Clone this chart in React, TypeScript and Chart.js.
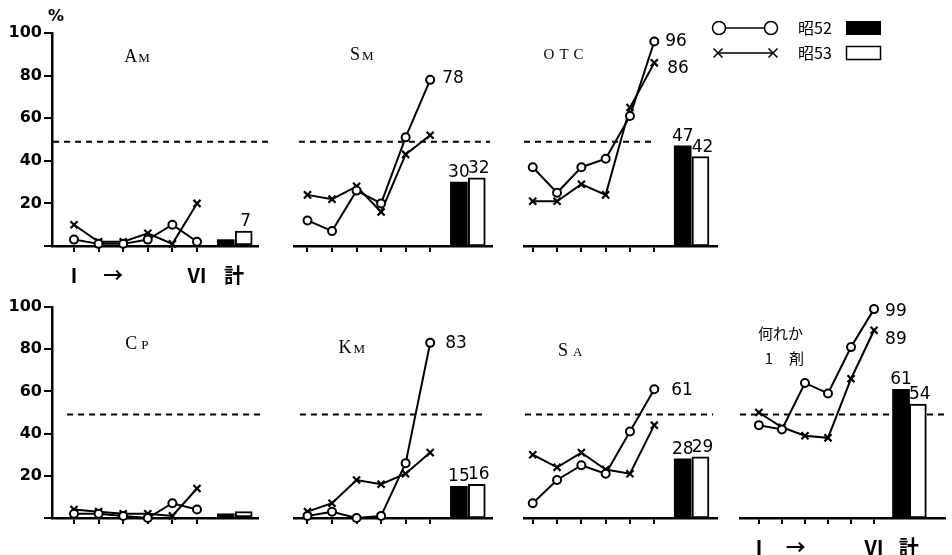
import React, { useEffect, useRef } from 'react';
import { Chart, registerables } from 'chart.js';

Chart.register(...registerables);

// ---------------- data ----------------
const STAGES = [1, 2, 3, 4, 5, 6];
const AXIS_LABEL_POS = [1, 2.6, 6, 7.5];
const AXIS_LABELS = ['Ⅰ', '→', 'Ⅵ', '計'];
const TOTAL_POS = [7.17, 7.9];
const Y_TICKS = [0, 20, 40, 60, 80, 100];
const REFERENCE_LEVEL = 49;
const SERIES = ['昭52', '昭53'];

const AM_52 = [3, 1, 1, 3, 10, 2];
const AM_53 = [10, 2, 2, 6, 1, 20];
const AM_TOTAL = [3, 7];
const SM_52 = [12, 7, 26, 20, 51, 78];
const SM_53 = [24, 22, 28, 16, 43, 52];
const SM_TOTAL = [30, 32];
const OTC_52 = [37, 25, 37, 41, 61, 96];
const OTC_53 = [21, 21, 29, 24, 65, 86];
const OTC_TOTAL = [47, 42];
const CP_52 = [2, 2, 1, 0, 7, 4];
const CP_53 = [4, 3, 2, 2, 1, 14];
const CP_TOTAL = [2, 3];
const KM_52 = [1, 3, 0, 1, 26, 83];
const KM_53 = [3, 7, 18, 16, 21, 31];
const KM_TOTAL = [15, 16];
const SA_52 = [7, 18, 25, 21, 41, 61];
const SA_53 = [30, 24, 31, 23, 21, 44];
const SA_TOTAL = [28, 29];
const ANY_52 = [44, 42, 64, 59, 81, 99];
const ANY_53 = [50, 43, 39, 38, 66, 89];
const ANY_TOTAL = [61, 54];

// ---------------- layout ----------------
const SERIF = '"Liberation Serif", serif';
const CJK = '"Noto Sans CJK JP", sans-serif';
const NUM = '"DejaVu Sans", sans-serif';

const TOP = { top: 0, height: 290, areaTop: 33, areaBottom: 246 };
const BOTTOM = { top: 290, height: 265, areaTop: 307, areaBottom: 518 };

const PANELS = [
  {
    key: 'AM', s52: AM_52, s53: AM_53, total: AM_TOTAL, row: TOP,
    left: 0, width: 280, areaLeft: 52, areaRight: 258, xMin: 0.106, xMax: 8.48,
    yAxis: true, axisLabels: true, percent: true,
    dash: [[0.15, 8.89]], barLabels: [false, true], endLabels: [],
    title: [{ x: 3.56, y: 89, gap: 1, family: SERIF, parts: [['A', 18], ['M', 13]] }],
  },
  {
    key: 'SM', s52: SM_52, s53: SM_53, total: SM_TOTAL, row: TOP,
    left: 280, width: 230, areaLeft: 287, areaRight: 492, xMin: 0.45, xMax: 8.52,
    dash: [[0.65, 8.44]], barLabels: [true, true],
    endLabels: [{ s: 0, dx: 12, dy: -1 }],
    title: [{ x: 3.21, y: 90, gap: 2, family: SERIF, parts: [['S', 18], ['M', 13]] }],
  },
  {
    key: 'OTC', s52: OTC_52, s53: OTC_53, total: OTC_TOTAL, row: TOP,
    left: 510, width: 442, areaLeft: 517, areaRight: 717, xMin: 0.64, xMax: 8.58,
    legend: true,
    dash: [[0.64, 6.04], [8.7, 10.0]], barLabels: [true, true],
    endLabels: [{ s: 0, dx: 11, dy: 0 }, { s: 1, dx: 13, dy: 6 }],
    title: [{ x: 2.27, y: 90.5, gap: 5, family: SERIF, parts: [['O', 15], ['T', 15], ['C', 15]] }],
  },
  {
    key: 'CP', s52: CP_52, s53: CP_53, total: CP_TOTAL, row: BOTTOM,
    left: 0, width: 280, areaLeft: 52, areaRight: 258, xMin: 0.106, xMax: 8.48,
    yAxis: true,
    dash: [[0.72, 8.56]], barLabels: [false, false], endLabels: [],
    title: [{ x: 3.56, y: 83, gap: 4, family: SERIF, parts: [['C', 18], ['P', 13]] }],
  },
  {
    key: 'KM', s52: KM_52, s53: KM_53, total: KM_TOTAL, row: BOTTOM,
    left: 280, width: 230, areaLeft: 287, areaRight: 492, xMin: 0.45, xMax: 8.52,
    dash: [[0.69, 8.17]], barLabels: [true, true],
    endLabels: [{ s: 0, dx: 15, dy: 1 }],
    title: [{ x: 2.81, y: 81, gap: 2, family: SERIF, parts: [['K', 18], ['M', 13]] }],
  },
  {
    key: 'SA', s52: SA_52, s53: SA_53, total: SA_TOTAL, row: BOTTOM,
    left: 510, width: 220, areaLeft: 517, areaRight: 717, xMin: 0.64, xMax: 8.58,
    dash: [[0.68, 8.42]], barLabels: [true, true],
    endLabels: [{ s: 0, dx: 17, dy: 1 }],
    title: [{ x: 2.54, y: 79.5, gap: 5, family: SERIF, parts: [['S', 18], ['A', 13]] }],
  },
  {
    key: 'ANY', s52: ANY_52, s53: ANY_53, total: ANY_TOTAL, row: BOTTOM,
    left: 730, width: 222, areaLeft: 735, areaRight: 952, xMin: 0.18, xMax: 9.07,
    axisLabels: true,
    dash: [[0.18, 9.07]], barLabels: [true, true],
    endLabels: [{ s: 0, dx: 11, dy: 2 }, { s: 1, dx: 11, dy: 9 }],
    title: [
      { x: 1.94, y: 87.7, gap: 0, family: CJK, parts: [['何れか', 15]] },
      { x: 2.11, y: 75.8, gap: 16, family: CJK, parts: [['1', 15], ['剤', 15]] },
    ],
  },
];

// legend geometry in page pixels
const LEGEND = {
  row1: 28, row2: 53,
  markA: 719, markB: 771,
  text: 798,
  swatchX: 846, swatchW: 35, swatchH: 14,
};

const X_TICK_VALUES = Array.from(new Set([...STAGES, ...AXIS_LABEL_POS])).sort((a, b) => a - b);

function decorPlugin(p: any) {
  return {
    id: 'decor',
    afterDatasetsDraw(chart: any) {
      const { ctx, chartArea } = chart;
      const xs = chart.scales.x;
      const ys = chart.scales.y;
      ctx.save();
      ctx.fillStyle = '#000';
      ctx.strokeStyle = '#000';

      // panel titles
      p.title.forEach((line: any) => {
        const widths = line.parts.map(([t, size]: [string, number]) => {
          ctx.font = `${size}px ${line.family}`;
          return ctx.measureText(t).width;
        });
        const total = widths.reduce((a: number, b: number) => a + b, 0) + line.gap * (line.parts.length - 1);
        let cx = xs.getPixelForValue(line.x) - total / 2;
        const by = ys.getPixelForValue(line.y) + 6;
        ctx.textAlign = 'left';
        ctx.textBaseline = 'alphabetic';
        line.parts.forEach(([t, size]: [string, number], i: number) => {
          ctx.font = `${size}px ${line.family}`;
          ctx.fillText(t, cx, by);
          cx += widths[i] + line.gap;
        });
      });

      // end-point value labels
      ctx.font = `17px ${NUM}`;
      ctx.textBaseline = 'middle';
      ctx.textAlign = 'left';
      p.endLabels.forEach((l: any) => {
        const series = l.s === 0 ? p.s52 : p.s53;
        const v = series[series.length - 1];
        const px = xs.getPixelForValue(STAGES[STAGES.length - 1]) + l.dx;
        const py = ys.getPixelForValue(v) + l.dy;
        ctx.fillText(String(v), px, py);
      });

      // total bar labels
      ctx.textAlign = 'center';
      ctx.textBaseline = 'alphabetic';
      p.total.forEach((v: number, i: number) => {
        if (!p.barLabels[i]) return;
        const px = xs.getPixelForValue(TOTAL_POS[i]) + (i ? 2 : 0);
        const py = ys.getPixelForValue(v) - 5;
        ctx.fillText(String(v), px, py);
      });

      // percent sign
      if (p.percent) {
        ctx.font = `bold 16px ${NUM}`;
        ctx.textAlign = 'center';
        ctx.textBaseline = 'middle';
        ctx.fillText('%', chartArea.left + 4, chartArea.top - 16);
      }

      // legend
      if (p.legend) {
        const ox = -p.left;
        const oy = -p.row.top;
        ctx.lineWidth = 1.5;
        // row 1: circles + black swatch
        let y = oy + LEGEND.row1;
        ctx.beginPath();
        ctx.moveTo(ox + LEGEND.markA, y);
        ctx.lineTo(ox + LEGEND.markB, y);
        ctx.stroke();
        [LEGEND.markA, LEGEND.markB].forEach((cx) => {
          ctx.beginPath();
          ctx.arc(ox + cx, y, 6.5, 0, Math.PI * 2);
          ctx.fillStyle = '#fff';
          ctx.fill();
          ctx.stroke();
        });
        ctx.fillStyle = '#000';
        ctx.font = `16px ${CJK}`;
        ctx.textAlign = 'left';
        ctx.textBaseline = 'middle';
        ctx.fillText(SERIES[0], ox + LEGEND.text, y);
        ctx.fillRect(ox + LEGEND.swatchX, y - LEGEND.swatchH / 2, LEGEND.swatchW, LEGEND.swatchH);
        // row 2: crosses + white swatch
        y = oy + LEGEND.row2;
        ctx.beginPath();
        ctx.moveTo(ox + LEGEND.markA, y);
        ctx.lineTo(ox + LEGEND.markB + 2, y);
        ctx.stroke();
        [LEGEND.markA - 1, LEGEND.markB + 2].forEach((cx) => {
          ctx.beginPath();
          ctx.moveTo(ox + cx - 4.5, y - 4.5);
          ctx.lineTo(ox + cx + 4.5, y + 4.5);
          ctx.moveTo(ox + cx - 4.5, y + 4.5);
          ctx.lineTo(ox + cx + 4.5, y - 4.5);
          ctx.stroke();
        });
        ctx.fillText(SERIES[1], ox + LEGEND.text, y);
        ctx.strokeRect(ox + LEGEND.swatchX + 0.5, y - 6.5, LEGEND.swatchW - 1, 13);
      }
      ctx.restore();
    },
  };
}

function buildConfig(p: any) {
  const yWidth = p.areaLeft - p.left;
  const xHeight = p.row.top + p.row.height - p.row.areaBottom;
  const dashData: any[] = [];
  p.dash.forEach((seg: number[], i: number) => {
    if (i > 0) dashData.push({ x: (p.dash[i - 1][1] + seg[0]) / 2, y: null });
    dashData.push({ x: seg[0], y: REFERENCE_LEVEL }, { x: seg[1], y: REFERENCE_LEVEL });
  });

  return {
    type: 'line',
    data: {
      datasets: [
        {
          type: 'line',
          label: SERIES[0],
          data: STAGES.map((x, i) => ({ x, y: p.s52[i] })),
          borderColor: '#000',
          borderWidth: 2,
          pointStyle: 'circle',
          pointRadius: 4,
          pointBackgroundColor: '#fff',
          pointBorderColor: '#000',
          pointBorderWidth: 2,
          tension: 0,
          clip: false,
          order: 0,
        },
        {
          type: 'line',
          label: SERIES[1],
          data: STAGES.map((x, i) => ({ x, y: p.s53[i] })),
          borderColor: '#000',
          borderWidth: 2,
          pointStyle: 'crossRot',
          pointRadius: 5,
          pointBackgroundColor: '#000',
          pointBorderColor: '#000',
          pointBorderWidth: 2.2,
          tension: 0,
          clip: false,
          order: 1,
        },
        {
          type: 'bar',
          label: SERIES[0] + ' 計',
          data: [{ x: TOTAL_POS[0], y: p.total[0] }],
          backgroundColor: '#000',
          borderColor: '#000',
          borderWidth: 0,
          barThickness: 17,
          grouped: false,
          clip: false,
          order: 2,
        },
        {
          type: 'bar',
          label: SERIES[1] + ' 計',
          data: [{ x: TOTAL_POS[1], y: p.total[1] }],
          backgroundColor: '#fff',
          borderColor: '#000',
          borderWidth: 2,
          borderSkipped: false,
          barThickness: 17,
          grouped: false,
          clip: false,
          order: 2,
        },
        {
          type: 'line',
          label: '50%',
          data: dashData,
          borderColor: '#000',
          borderWidth: 2,
          borderDash: [6, 5],
          pointRadius: 0,
          spanGaps: false,
          clip: false,
          order: 3,
        },
      ],
    },
    options: {
      responsive: false,
      animation: false,
      events: [],
      layout: {
        padding: {
          left: p.yAxis ? 0 : yWidth,
          right: p.left + p.width - p.areaRight,
          top: p.row.areaTop - p.row.top,
          bottom: 0,
        },
      },
      plugins: {
        legend: { display: false },
        tooltip: { enabled: false },
        title: { display: false },
      },
      scales: {
        x: {
          type: 'linear',
          min: p.xMin,
          max: p.xMax,
          offset: false,
          bounds: 'data',
          afterBuildTicks: (s: any) => {
            s.ticks = X_TICK_VALUES.map((v) => ({ value: v }));
          },
          afterFit: (s: any) => {
            s.height = xHeight;
          },
          ticks: {
            autoSkip: false,
            maxRotation: 0,
            minRotation: 0,
            padding: 11,
            color: '#000',
            font: { family: CJK, size: 20, weight: 'bold' },
            callback: (v: number) => {
              if (!p.axisLabels) return '';
              const i = AXIS_LABEL_POS.indexOf(v);
              return i >= 0 ? AXIS_LABELS[i] : '';
            },
          },
          grid: {
            offset: false,
            drawOnChartArea: false,
            drawTicks: true,
            tickLength: 6,
            lineWidth: 2,
            color: (ctx: any) => (ctx.tick && STAGES.includes(ctx.tick.value) ? '#000' : 'rgba(0,0,0,0)'),
          },
          border: { display: true, color: '#000', width: 2.5 },
        },
        y: {
          type: 'linear',
          display: !!p.yAxis,
          position: 'left',
          min: 0,
          max: 100,
          bounds: 'data',
          afterBuildTicks: (s: any) => {
            s.ticks = Y_TICKS.map((v) => ({ value: v }));
          },
          afterFit: (s: any) => {
            s.width = yWidth;
          },
          ticks: {
            padding: 2,
            color: '#000',
            font: { family: NUM, size: 16, weight: 'bold' },
            callback: (v: number) => (v === 0 ? '' : String(v)),
          },
          grid: {
            drawOnChartArea: false,
            drawTicks: true,
            tickLength: 8,
            lineWidth: 2,
            color: '#000',
          },
          border: { display: true, color: '#000', width: 2.5 },
        },
      },
    },
    plugins: [decorPlugin(p)],
  };
}

function PanelChart({ panel }: { panel: any }) {
  const ref = useRef<HTMLCanvasElement | null>(null);
  useEffect(() => {
    if (!ref.current) return;
    const chart = new Chart(ref.current, buildConfig(panel) as any);
    return () => chart.destroy();
  }, [panel]);
  return (
    <canvas
      ref={ref}
      width={panel.width}
      height={panel.row.height}
      style={{
        position: 'absolute',
        left: panel.left,
        top: panel.row.top,
        width: panel.width,
        height: panel.row.height,
      }}
    />
  );
}

export default function App() {
  return (
    <div
      style={{
        position: 'fixed',
        left: 0,
        top: 0,
        width: 952,
        height: 555,
        background: '#fff',
        overflow: 'hidden',
      }}
    >
      {PANELS.map((p) => (
        <PanelChart key={p.key} panel={p} />
      ))}
    </div>
  );
}
